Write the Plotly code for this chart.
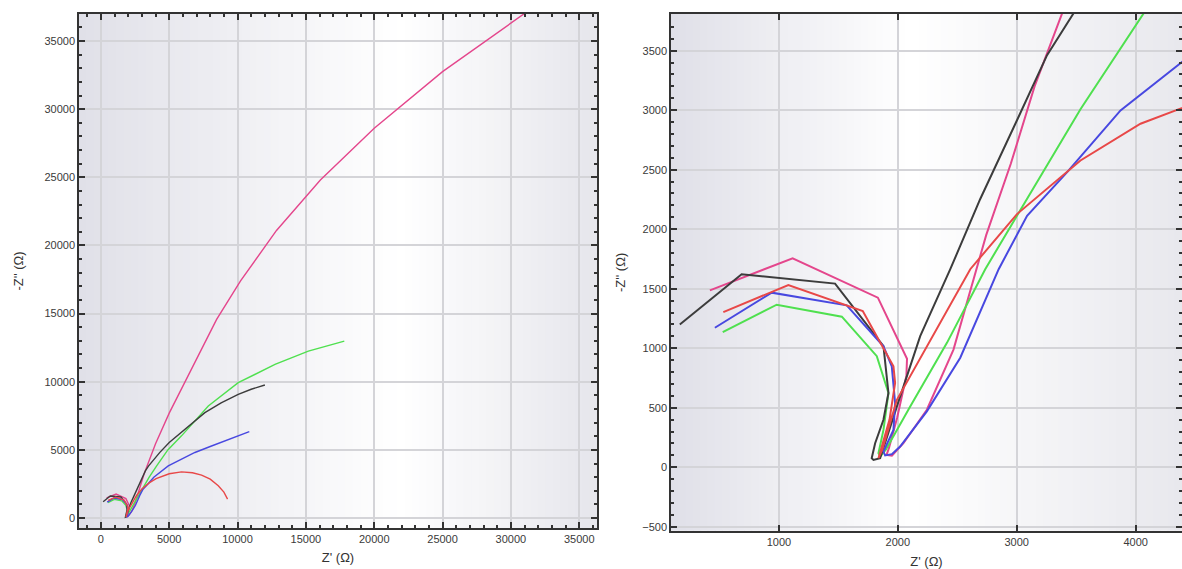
import plotly.graph_objects as go

# ---- data (Z' , -Z'') ----
pink_re = [419, 1115, 1832, 2077, 2072, 1995, 1925, 1905, 1950, 2047, 2244, 2468, 2743, 2950, 3150, 3382,
           4000, 5000, 6880, 8470, 10220, 12850, 16060, 20000, 25000, 30660, 33500]
pink_im = [1486, 1756, 1425, 911, 770, 420, 160, 104, 98, 202, 483, 989, 1950, 2550, 3200, 3816,
           5450, 7700, 11390, 14570, 17400, 21100, 24800, 28600, 32750, 36750, 38800]

green_re = [527, 981, 1529, 1823, 1921, 1879, 1837, 1851, 1900, 2104, 2413, 2735, 3002, 3536, 4069,
            4900, 5900, 7860, 10050, 12740, 15180, 17810]
green_im = [1135, 1366, 1265, 933, 624, 314, 118, 90, 150, 511, 1045, 1664, 2113, 3008, 3816,
            5000, 6030, 8220, 9930, 11270, 12250, 12980]

black_re = [166, 686, 1472, 1879, 1921, 1879, 1809, 1780, 1795, 1851, 1992, 2188, 2441, 2693, 3008,
            3255, 3479, 4300, 5000, 5660, 6600, 7610, 8800, 10050, 11000, 12000]
black_im = [1200, 1621, 1543, 1017, 624, 399, 202, 76, 62, 76, 511, 1101, 1664, 2254, 2928,
            3462, 3816, 4800, 5550, 6100, 6950, 7730, 8450, 9080, 9450, 9760]

blue_re = [461, 939, 1570, 1879, 1949, 1977, 1963, 1879, 1893, 1950, 2019, 2244, 2525, 2848, 3087,
           3424, 3873, 4930, 6000, 6880, 8000, 9320, 10860]
blue_im = [1172, 1467, 1360, 1017, 848, 540, 314, 132, 100, 110, 174, 470, 920, 1664, 2113,
           2479, 2998, 3830, 4380, 4810, 5250, 5780, 6340]

red_re = [532, 1079, 1705, 1963, 1977, 1930, 1837, 1870, 1992, 2244, 2609, 3002, 3424, 3536, 4041,
          4395, 5000, 5900, 6700, 7370, 8000, 8590, 9000, 9270]
red_im = [1304, 1531, 1312, 848, 708, 400, 76, 150, 567, 1017, 1664, 2127, 2479, 2577, 2886,
          3018, 3250, 3390, 3320, 3150, 2850, 2370, 1900, 1390]

series = [
    ("pink", pink_re, pink_im, "#e4468c"),
    ("green", green_re, green_im, "#4fe04f"),
    ("black", black_re, black_im, "#3c3c3c"),
    ("blue", blue_re, blue_im, "#4848e0"),
    ("red", red_re, red_im, "#e84848"),
]

# ---- layout geometry ----
W, H = 1182, 569
L_dom_x = [79 / W, 597 / W]
L_dom_y = [(H - 528) / H, (H - 14) / H]
R_dom_x = [671 / W, 1.0]
R_dom_y = [(H - 530.7) / H, (H - 14) / H]

fig = go.Figure()
for name, xs, ys, col in series:
    fig.add_trace(go.Scatter(x=xs, y=ys, mode="lines", name=name, line=dict(color=col, width=1.4),
                             xaxis="x", yaxis="y", showlegend=False))
for name, xs, ys, col in series:
    fig.add_trace(go.Scatter(x=xs, y=ys, mode="lines", name=name, line=dict(color=col, width=2),
                             xaxis="x2", yaxis="y2", showlegend=False))


def gradient_shapes(xref, yref, left_rgb, peak, right_rgb, n=70):
    shapes = []
    for i in range(n):
        t = (i + 0.5) / n
        if t <= peak:
            f = (peak - t) / peak
            rgb = [255 - (255 - c) * f for c in left_rgb]
        else:
            f = (t - peak) / (1 - peak)
            rgb = [255 - (255 - c) * f for c in right_rgb]
        col = "rgb(%d,%d,%d)" % tuple(int(round(v)) for v in rgb)
        shapes.append(dict(type="rect", xref=xref, yref=yref, x0=i / n, x1=(i + 1) / n + 0.002,
                           y0=0, y1=1, fillcolor=col, line=dict(width=0), layer="below"))
    return shapes


shapes = gradient_shapes("x domain", "y domain", (224, 224, 232), 0.62, (230, 230, 236))
shapes += gradient_shapes("x2 domain", "y2 domain", (224, 224, 232), 0.47, (232, 232, 237))

font_family = "Liberation Sans, Arial, sans-serif"
tickfont = dict(family=font_family, size=11, color="#3a3a3a")
titlefont = dict(family=font_family, size=13, color="#333333")

common = dict(
    showline=True, linecolor="#333333", linewidth=1.5, mirror="ticks",
    ticks="inside", ticklen=6, tickwidth=1.5, tickcolor="#333333",
    showgrid=True, gridcolor="#d4d4d8", gridwidth=1.5, zeroline=False,
    tickfont=tickfont, automargin=False, tickformat="d",
)

fig.update_layout(
    width=W, height=H, margin=dict(l=0, r=0, t=0, b=0),
    paper_bgcolor="white", plot_bgcolor="rgba(0,0,0,0)",
    template="none", showlegend=False, shapes=shapes,
    xaxis=dict(domain=L_dom_x, range=[-1600, 36300], dtick=5000, tick0=0,
               minor=dict(dtick=1000, ticks="inside", ticklen=3, tickcolor="#333333", showgrid=False),
               title=dict(text="Z' (Ω)", font=titlefont, standoff=9), anchor="y", **common),
    yaxis=dict(domain=L_dom_y, range=[-730, 36980], dtick=5000, tick0=0,
               minor=dict(dtick=1000, ticks="inside", ticklen=3, tickcolor="#333333", showgrid=False),
               title=dict(text="-Z'' (Ω)", font=titlefont, standoff=18), anchor="x", **common),
    xaxis2=dict(domain=R_dom_x, range=[92, 4390], dtick=1000, tick0=0,
                title=dict(text="Z' (Ω)", font=titlefont, standoff=10), anchor="y2", **common),
    yaxis2=dict(domain=R_dom_y, range=[-533, 3808], dtick=500, tick0=0,
                minor=dict(dtick=100, ticks="inside", ticklen=3, tickcolor="#333333", showgrid=False),
                title=dict(text="-Z'' (Ω)", font=titlefont, standoff=14), anchor="x2", **common),
)

fig.write_html("out.html")
